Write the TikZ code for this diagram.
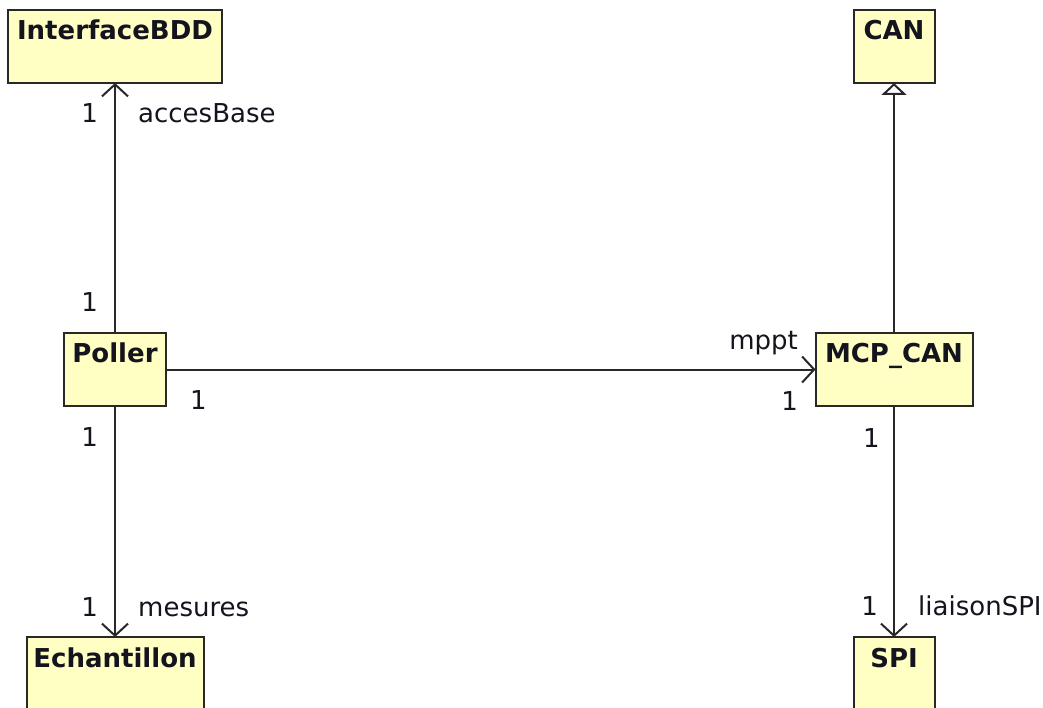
\documentclass[tikz,border=0pt]{standalone}
\usepackage{fontspec}
\setmainfont{DejaVu Sans}
\usetikzlibrary{arrows.meta}
\definecolor{clsfill}{RGB}{255,255,196}
\definecolor{clsdraw}{RGB}{40,40,40}
\definecolor{txt}{RGB}{20,20,30}
\tikzset{
  cls/.style={draw=clsdraw, fill=clsfill, line width=2pt, rectangle, inner sep=0pt, outer sep=0pt},
  clsname/.style={anchor=base, inner sep=0pt, text=txt, font=\fontsize{26}{31}\selectfont\bfseries},
  lbl/.style={inner sep=0pt, text=txt, font=\fontsize{26}{31}\selectfont},
  assoc/.style={draw=clsdraw, line width=2pt, -{Straight Barb[length=12pt,width=26pt,line width=2pt]}},
  inherit/.style={draw=clsdraw, line width=2pt, -{Triangle[open,length=12pt,width=25pt,line width=2pt,fill=white]}}
}
\begin{document}
\begin{tikzpicture}[x=1pt,y=-1pt]
\useasboundingbox (0,0) rectangle (1043,708);
\fill[white] (0,0) rectangle (1043,708);
\begin{scope}
\clip (0,0) rectangle (1043,708);
% classes
\node[cls, minimum width=214, minimum height=73] (ibdd) at (115,46.5) {};
\node[clsname] (ibddt) at (115,40) {InterfaceBDD};
\node[cls, minimum width=81, minimum height=73] (can) at (894,46.5) {};
\node[clsname] (cant) at (894,40) {CAN};
\node[cls, minimum width=102, minimum height=73] (poller) at (115,369.5) {};
\node[clsname] (pollert) at (115,362) {Poller};
\node[cls, minimum width=157, minimum height=73] (mcp) at (894,369.5) {};
\node[clsname] (mcpt) at (894,362) {MCP\_CAN};
\node[cls, minimum width=177, minimum height=73] (ech) at (115,673.5) {};
\node[clsname] (echt) at (115,667) {Echantillon};
\node[cls, minimum width=81, minimum height=73] (spi) at (894,673.5) {};
\node[clsname] (spit) at (894,667) {SPI};
\end{scope}
% connectors
\draw[assoc] (poller.north) -- (ibdd.south);
\draw[inherit] (mcp.north) -- (can.south);
\draw[assoc] (poller.east) -- (mcp.west);
\draw[assoc] (poller.south) -- (ech.north);
\draw[assoc] (mcp.south) -- (spi.north);
% labels
\node[lbl, anchor=base east] (l1) at (98,123) {1};
\node[lbl, anchor=base west] (l2) at (138,123) {accesBase};
\node[lbl, anchor=base east] (l3) at (98,312) {1};
\node[lbl, anchor=base west] (l4) at (190,409) {1};
\node[lbl, anchor=base east] (l5) at (98,446) {1};
\node[lbl, anchor=base east] (l6) at (798,349) {mppt};
\node[lbl, anchor=base east] (l7) at (798,410) {1};
\node[lbl, anchor=base west] (l8) at (863,447) {1};
\node[lbl, anchor=base east] (l9) at (98,616) {1};
\node[lbl, anchor=base west] (l10) at (138,616) {mesures};
\node[lbl, anchor=base east] (l11) at (878,615) {1};
\node[lbl, anchor=base west] (l12) at (918,615) {liaisonSPI};
\end{tikzpicture}
\end{document}
